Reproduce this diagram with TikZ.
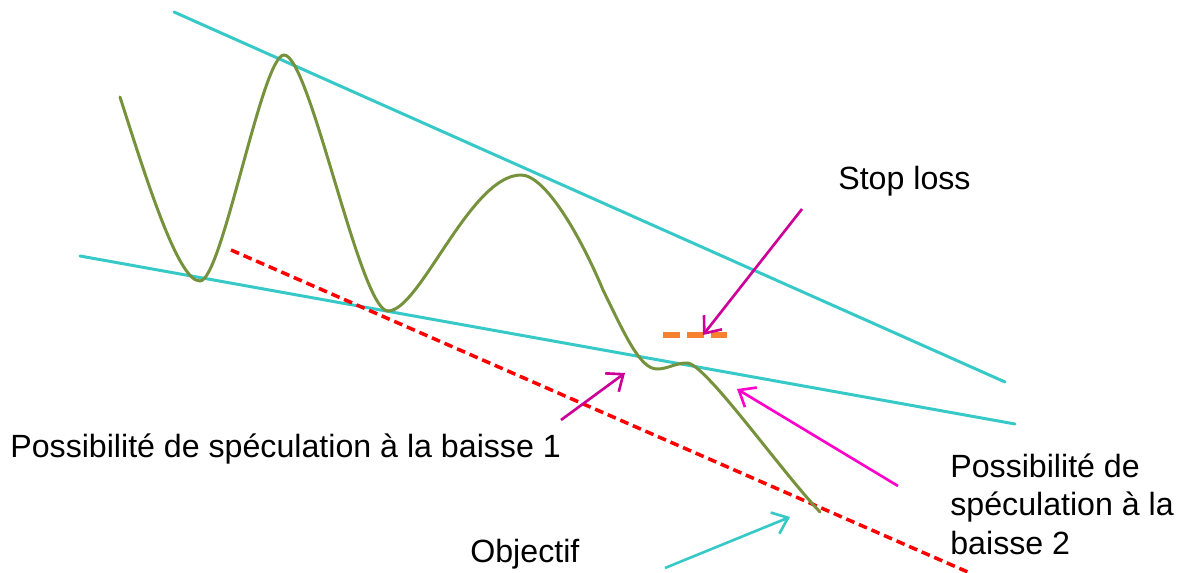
\documentclass[tikz,border=0pt]{standalone}
\usepackage{fontspec}
\setmainfont{Liberation Sans}
\usetikzlibrary{arrows.meta}
\definecolor{bordure}{RGB}{55,200,200}
\definecolor{cours}{RGB}{118,146,60}
\definecolor{support}{RGB}{255,0,0}
\definecolor{stop}{RGB}{247,130,45}
\definecolor{fleche}{RGB}{204,0,153}
\definecolor{rose}{RGB}{255,0,204}

\begin{document}
\begin{tikzpicture}[x=0.02cm, y=-0.02cm]
	\tikzstyle{every node} = [inner sep=0pt, font=\fontsize{18.3}{22}\selectfont]
	\tikzstyle{bordureline} = [draw=bordure, line width=1.7pt, line cap=round]
	\tikzstyle{pointe} = [line width=1.5pt, -{Straight Barb[length=8pt, width=13pt]}]
	\useasboundingbox (0,0) rectangle (1183,573);

	\coordinate (h0) at (174,12); \coordinate (h1) at (1005,382); \coordinate (b0) at (80,256); \coordinate (b1) at (1015,424); \coordinate (r0) at (231,250); \coordinate (r1) at (970,573);
	\draw[bordureline] (h0) -- (h1); \draw[bordureline] (b0) -- (b1);
	\draw[support, line width=2pt, dash pattern=on 5pt off 2.8pt] (r0) -- (r1);

	\draw[cours, line width=1.7pt, line cap=round] (120,97) .. controls (145,175) and (178,282) .. (200,281) .. controls (222,281) and (262,55) .. (284,55) .. controls (310,55) and (360,311) .. (388,311) .. controls (420,311) and (470,175) .. (521,175) .. controls (545,175) and (580,235) .. (603,290) .. controls (625,335) and (640,369) .. (657,369) .. controls (668,369) and (675,363) .. (687,363) .. controls (705,363) and (780,470) .. (820,512);
	\draw[stop, line width=3.4pt, dash pattern=on 17*0.02cm off 7*0.02cm] (663,335) -- (727,335);

	\node[anchor=base west] (tstop) at (838,190) {Stop loss};
	\node[anchor=base west] (tbaisse1) at (10,458) {Possibilité de spéculation à la baisse 1};
	\node[anchor=north west, align=left] (tbaisse2) at (950,453) {Possibilité de\\spéculation à la\\baisse 2};
	\node[anchor=base west] (tobj) at (470,563) {Objectif};

	\coordinate (s0) at (802,209); \coordinate (s1) at (703,335); \coordinate (p0) at (561,420); \coordinate (p1) at (625,373); \coordinate (q0) at (898,486); \coordinate (q1) at (737,389); \coordinate (o0) at (665,568); \coordinate (o1) at (790,517);
	\draw[pointe, fleche] (s0) -- (s1); \draw[pointe, fleche] (p0) -- (p1); \draw[pointe, rose] (q0) -- (q1); \draw[pointe, bordure] (o0) -- (o1);
\end{tikzpicture}
\end{document}
